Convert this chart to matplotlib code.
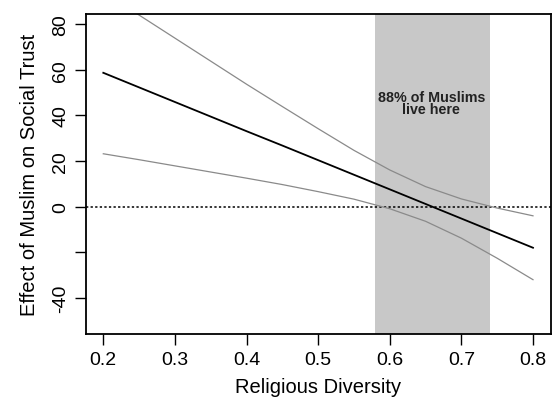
import numpy as np
import matplotlib.pyplot as plt

plt.rcParams['font.family'] = ['Liberation Sans', 'DejaVu Sans']

# values
diversity = [0.20, 0.25, 0.30, 0.35, 0.40, 0.45, 0.50, 0.55, 0.60, 0.65, 0.70, 0.75, 0.80]
effect = [58.7, 52.3, 45.9, 39.5, 33.1, 26.8, 20.4, 14.0, 7.6, 1.2, -5.2, -11.6, -18.0]
upper = [94.2, 84.0, 73.9, 63.8, 53.7, 43.9, 34.2, 24.7, 16.1, 8.8, 3.4, -0.6, -4.0]
lower = [23.2, 20.6, 17.9, 15.2, 12.5, 9.7, 6.6, 3.3, -0.9, -6.4, -13.8, -22.6, -32.0]
band = (0.58, 0.74)
xticks = [0.2, 0.3, 0.4, 0.5, 0.6, 0.7, 0.8]
yticks = [80, 60, 40, 20, 0, -20, -40]
ylabels = ["80", "60", "40", "20", "0", "", "-40"]

fig = plt.figure(figsize=(5.52, 4.10), dpi=100)
ax = fig.add_axes([0.156, 0.183, 0.842, 0.780])

ax.axvspan(band[0], band[1], color="#c8c8c8", lw=0, zorder=0)
ax.axhline(0, color="black", ls=(0, (1.5, 1.5)), lw=1.1, zorder=1)
ax.plot(diversity, upper, color="#8a8a8a", lw=0.9, zorder=2)
ax.plot(diversity, lower, color="#8a8a8a", lw=0.9, zorder=2)
ax.plot(diversity, effect, color="black", lw=1.3, zorder=3)

ax.text(0.658, 45.5, "88% of Muslims\nlive here", ha="center", va="center",
        fontsize=10.3, fontweight="bold", linespacing=0.85, color="#222222")

ax.set_xlim(0.176, 0.825)
ax.set_ylim(-55.8, 84.4)
ax.set_xticks(xticks)
ax.set_xticklabels([str(t) for t in xticks])
ax.set_yticks(yticks)
ax.set_yticklabels(ylabels, rotation=90, va="center")
ax.tick_params(axis="both", length=8, width=1, labelsize=14, pad=4)

for s in ax.spines.values():
    s.set_linewidth(1.3)

ax.set_xlabel("Religious Diversity", fontsize=14.5, labelpad=7)
ax.set_ylabel("Effect of Muslim on Social Trust", fontsize=14.5, labelpad=10)

plt.savefig("out.png", dpi=100)
